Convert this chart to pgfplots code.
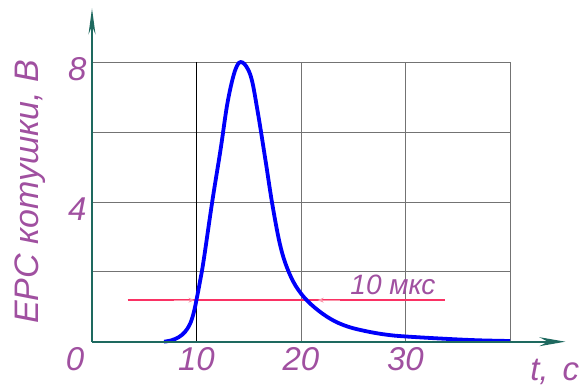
\documentclass[border=0pt]{standalone}
\usepackage{fontspec}
\setmainfont{Liberation Sans}
\usepackage{pgfplots}
\pgfplotsset{compat=1.18}
\usetikzlibrary{arrows.meta}
\definecolor{txt}{RGB}{160,80,160}
\definecolor{axc}{RGB}{30,105,95}
\definecolor{crv}{RGB}{0,0,250}
\definecolor{rl}{RGB}{250,50,100}
\definecolor{pk}{RGB}{250,150,170}
\begin{document}
\begin{tikzpicture}
\useasboundingbox (-92pt,-45.3pt) rectangle (494pt,341.7pt);
\begin{axis}[
  anchor=origin, at={(0,0)},
  scale only axis, width=418pt, height=279.2pt,
  xmin=0, xmax=40, ymin=0, ymax=8,
  clip=false,
  axis line style={draw=none},
  xtick={10,20,30,40}, xticklabels={10,20,30,},
  ytick={2,4,6,8}, yticklabels={,4,,8},
  extra x ticks={0}, extra x tick labels={0},
  extra x tick style={grid=none, xticklabel style={xshift=-17pt}},
  major tick length=0pt,
  grid=major,
  major grid style={draw=black!55, line width=0.8pt},
  /pgf/number format/assume math mode=true,
  ticklabel style={font=\fontsize{33}{36}\selectfont\itshape, text=txt},
  xticklabel style={yshift=-2pt},
  yticklabel style={yshift=-7pt, xshift=-2pt},
]
\addplot[black, line width=1pt] coordinates {(10,0) (10,8)};
\addplot[rl, line width=1.6pt] coordinates {(3.4,1.19) (33.8,1.19)};
\addplot[pk, line width=0.8pt, -{Stealth[length=6pt,width=5pt]}] coordinates {(7.8,1.19) (9.8,1.19)};
\addplot[pk, line width=0.8pt, -{Stealth[length=6pt,width=5pt]}] coordinates {(23.7,1.19) (21.6,1.19)};
\addplot[crv, line width=3.8pt, smooth, tension=0.6] coordinates {
(6.9,0) (7.6,0.04) (8.3,0.13) (8.9,0.28) (9.4,0.52) (9.75,0.85) (10,1.2) (10.35,1.75) (10.7,2.36) (11.5,4.0)
(12.3,5.5) (13.0,6.9) (13.75,7.82) (14.4,8.0) (15.2,7.6) (15.85,6.6)
(16.6,5.2) (17.3,3.86) (18.1,2.65) (19.0,1.88) (20,1.38) (21.3,0.98)
(22.9,0.64) (24.5,0.43) (26.4,0.29) (28.2,0.2) (30,0.15) (34,0.08) (37,0.04) (40,0.02)};
\draw[axc, line width=2pt, -{Stealth[length=26pt,width=7pt]}] (axis cs:0,0) -- (axis cs:0,9.55);
\draw[axc, line width=2pt, -{Stealth[length=26pt,width=9pt]}] (axis cs:0,0) -- (axis cs:45.3,0);
\node[text=txt, font=\fontsize{28}{30}\selectfont\itshape] at (axis cs:28.8,1.62) {10 мкс};
\node[text=txt, font=\fontsize{34}{36}\selectfont\itshape, rotate=90] at (axis cs:-5.9,4.29) {ЕРС котушки, В};
\node[text=txt, font=\fontsize{33}{36}\selectfont\itshape, anchor=west] at (axis cs:41.6,-0.87) {t,\hspace{14pt}с};
\end{axis}
\end{tikzpicture}
\end{document}
